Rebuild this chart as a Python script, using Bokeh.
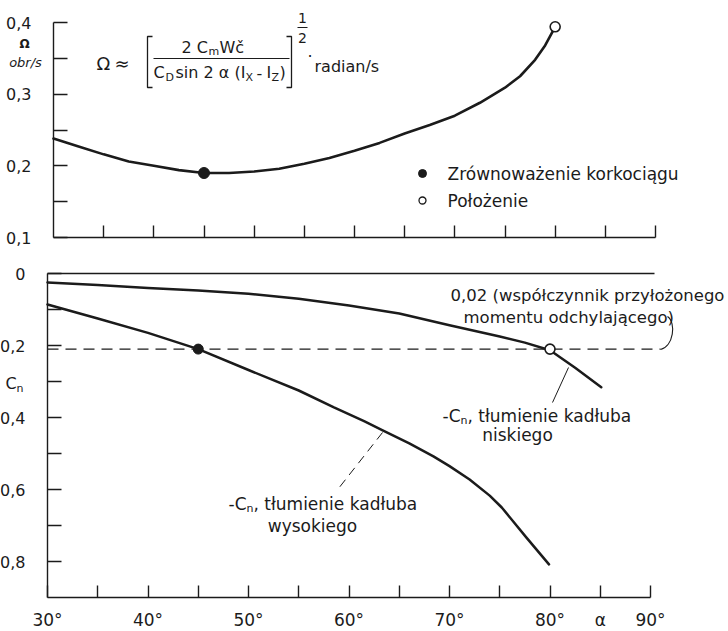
from bokeh.plotting import figure
from bokeh.models import LinearAxis, Range1d, FixedTicker
from bokeh.core.properties import value
from bokeh.embed import file_html
from bokeh.resources import INLINE

# ---------------- data ----------------
# upper panel: spin rate Omega [obr/s] against angle of attack alpha [deg]
alpha_omega = [30, 32.5, 35, 37.5, 40, 42.5, 45, 47.5, 50, 52.5, 55, 57.5, 60, 62.5,
               65, 67.5, 70, 72.5, 75, 76.5, 78, 79, 80]
omega = [0.238, 0.227, 0.216, 0.206, 0.200, 0.194, 0.190, 0.190, 0.192, 0.196,
         0.203, 0.211, 0.221, 0.232, 0.245, 0.257, 0.270, 0.288, 0.309, 0.325,
         0.348, 0.368, 0.394]
spin_alpha = [45]          # Zrównoważenie korkociągu
spin_omega = [0.190]
pos_alpha = [80]           # Położenie
pos_omega = [0.394]

# lower panel: -Cn damping, low fuselage / high fuselage
alpha_low = [30, 35, 40, 45, 50, 55, 60, 65, 70, 75, 77.5, 80, 82.5, 85.1]
cn_low = [0.025, 0.032, 0.040, 0.047, 0.056, 0.070, 0.089, 0.111, 0.144, 0.175,
          0.192, 0.213, 0.262, 0.316]
alpha_high = [30, 35, 40, 45, 50, 55, 58.5, 61.5, 63.3, 66, 68.4, 70, 72, 74, 75.2,
              77.7, 79.9]
cn_high = [0.086, 0.125, 0.165, 0.210, 0.268, 0.325, 0.372, 0.410, 0.435, 0.472,
           0.508, 0.535, 0.572, 0.617, 0.650, 0.735, 0.808]
applied_cn = 0.21                      # applied yawing-moment level
applied_alpha = [30, 91.0]
eq_high_alpha, eq_low_alpha = [45], [80]

# ticks and labels
omega_ticks = [0.1, 0.15, 0.2, 0.25, 0.3, 0.35, 0.4]
omega_labels = {0.1: "0,1", 0.15: "", 0.2: "0,2", 0.25: "", 0.3: "0,3", 0.35: "",
                0.4: "0,4"}
cn_ticks = [0.0, 0.1, 0.2, 0.3, 0.4, 0.5, 0.6, 0.7, 0.8]
cn_labels = {0.0: "0", 0.1: "", 0.2: "0,2", 0.3: "", 0.4: "0,4", 0.5: "",
             0.6: "0,6", 0.7: "", 0.8: "0,8"}
alpha_ticks = [35, 40, 45, 50, 55, 60, 65, 70, 75, 80, 85, 90]
alpha_ticks_bottom = [30, 35, 40, 45, 50, 55, 60, 65, 70, 75, 80, 85, 90]
alpha_labels = {30: "30°", 35: "", 40: "40°", 45: "", 50: "50°", 55: "", 60: "60°",
                65: "", 70: "70°", 75: "", 80: "80°", 85: "α", 90: "90°"}

# ---------------- layout (pixel geometry of the scan) ----------------
W, H = 728, 631
INK = "#1b1b1b"
FONT = "DejaVu Sans"

BX0, BX1, BY0, BY1 = 47, 650, 273, 597   # lower panel: alpha 30/90, Cn 0/0.9
TX0, TX1, TY0, TY1 = 53, 655, 237, 22    # upper panel: alpha 30/90, Omega 0.1/0.4


def bx(px):
    return 30 + (px - BX0) * 60.0 / (BX1 - BX0)


def by(py):
    return (py - BY0) * 0.9 / (BY1 - BY0)


def tx(px):
    return 30 + (px - TX0) * 60.0 / (TX1 - TX0)


def ty(py):
    return 0.1 + (TY0 - py) * 0.3 / (TY0 - TY1)


p = figure(width=W, height=H,
           x_range=Range1d(bx(0), bx(W)), y_range=Range1d(by(H), by(0)),
           x_axis_type=None, y_axis_type=None, toolbar_location=None,
           output_backend="svg", min_border=0, min_border_left=0,
           min_border_right=0, min_border_top=0, min_border_bottom=0,
           outline_line_color=None, background_fill_color="white",
           border_fill_color="white")
p.extra_x_ranges = {"xt": Range1d(tx(0), tx(W))}
p.extra_y_ranges = {"om": Range1d(ty(H), ty(0))}
TOP = dict(x_range_name="xt", y_range_name="om")


def make_axis(ticks, labels, loc, bounds, xr="default", yr="default",
              tick_in=14, size="16px", standoff=22):
    return LinearAxis(
        ticker=FixedTicker(ticks=ticks), major_label_overrides=labels,
        fixed_location=loc, bounds=bounds, x_range_name=xr, y_range_name=yr,
        axis_line_color=INK, axis_line_width=1.4,
        major_tick_line_color=INK, major_tick_line_width=1.4,
        major_tick_in=tick_in, major_tick_out=0, minor_tick_line_color=None,
        major_label_text_font=FONT, major_label_text_font_size=size,
        major_label_text_color=INK, major_label_standoff=standoff)


# upper panel axes
p.add_layout(make_axis(omega_ticks, omega_labels, 30, (0.1, 0.4), xr="xt", yr="om"),
             "left")
p.add_layout(make_axis(alpha_ticks, {t: "" for t in alpha_ticks}, 0.1, (30, 90),
                       xr="xt", yr="om", tick_in=12, size="0px"), "below")
# lower panel axes
p.add_layout(make_axis(cn_ticks, cn_labels, 30, (0.0, 0.9)), "left")
p.add_layout(make_axis(alpha_ticks_bottom, alpha_labels, 0.9, (30, 90), tick_in=12,
                       size="17px", standoff=12), "below")
p.add_layout(make_axis([], {}, 0.0, (30, 90.4), tick_in=0, size="0px"), "above")


def txt(xs, ys, texts, size="16px", align="left", top=False, style="normal",
        baseline="middle"):
    kw = TOP if top else {}
    p.text(x=xs, y=ys, text=texts, text_font=value(FONT), text_font_size=size,
           text_align=align, text_baseline=baseline, text_color=INK,
           text_font_style=style, **kw)


def seg(xs, ys, top=False, width=1.3, dash="solid"):
    kw = TOP if top else {}
    p.line(xs, ys, line_color=INK, line_width=width, line_dash=dash, **kw)


# ---------------- upper panel ----------------
p.line(alpha_omega, omega, line_color=INK, line_width=2.6, line_join="round",
       line_cap="round", **TOP)
p.scatter(spin_alpha, spin_omega, size=11, color=INK, **TOP)
p.scatter(pos_alpha, pos_omega, size=10, fill_color="white", line_color=INK,
          line_width=1.6, **TOP)

# axis title
txt([tx(24)], [ty(43)], ["Ω"], size="12px", align="center", top=True, style="bold")
txt([tx(25)], [ty(62)], ["obr/s"], size="13px", align="center", top=True,
    style="italic")

# formula
txt([tx(96)], [ty(63)], ["Ω"], size="18px", top=True)
txt([tx(114)], [ty(63)], ["≈"], size="18px", top=True)
seg([tx(152), tx(147), tx(147), tx(152)], [ty(36), ty(36), ty(87), ty(87)], top=True)
seg([tx(286), tx(291), tx(291), tx(286)], [ty(36), ty(36), ty(87), ty(87)], top=True)
txt([tx(181)], [ty(47)], ["2 C"], top=True)
txt([tx(208)], [ty(51)], ["m"], size="11px", top=True)
txt([tx(219)], [ty(47)], ["Wč"], top=True)
seg([tx(153), tx(289)], [ty(58), ty(58)], top=True, width=1.1)
txt([tx(153)], [ty(72)], ["C"], top=True)
txt([tx(165)], [ty(77)], ["D"], size="11px", top=True)
txt([tx(175)], [ty(72)], ["sin 2 α (I"], top=True)
txt([tx(245)], [ty(77)], ["X"], size="11px", top=True)
txt([tx(256)], [ty(72)], ["-"], top=True)
txt([tx(266)], [ty(72)], ["I"], top=True)
txt([tx(271)], [ty(77)], ["Z"], size="11px", top=True)
txt([tx(279)], [ty(72)], [")"], top=True)
txt([tx(302)], [ty(17)], ["1"], size="14px", align="center", top=True)
seg([tx(297), tx(307)], [ty(27), ty(27)], top=True, width=1.1)
txt([tx(302)], [ty(37)], ["2"], size="14px", align="center", top=True)
txt([tx(307)], [ty(50)], ["."], top=True, baseline="alphabetic")
txt([tx(314)], [ty(66)], ["radian/s"], top=True)

# legend
p.scatter([tx(422)], [ty(173)], size=8, color=INK, **TOP)
p.scatter([tx(422)], [ty(200)], size=7, fill_color="white", line_color=INK,
          line_width=1.3, **TOP)
txt([tx(447)], [ty(173)], ["Zrównoważenie korkociągu"], size="17px", top=True)
txt([tx(447)], [ty(200)], ["Położenie"], size="17px", top=True)

# ---------------- lower panel ----------------
p.line(applied_alpha, [applied_cn, applied_cn], line_color=INK, line_width=1.3,
       line_dash="11 7")
p.line(alpha_low, cn_low, line_color=INK, line_width=2.5, line_join="round",
       line_cap="round")
p.line(alpha_high, cn_high, line_color=INK, line_width=2.5, line_join="round",
       line_cap="round")
p.scatter(eq_high_alpha, [applied_cn], size=10, color=INK)
p.scatter(eq_low_alpha, [applied_cn], size=10, fill_color="white", line_color=INK,
          line_width=1.6)

# Cn axis title
txt([bx(5)], [by(383)], ["C"])
txt([bx(16)], [by(388)], ["n"], size="11px")

# brace from the dashed line up to the note
p.bezier(x0=[bx(660)], y0=[by(349)], x1=[bx(667)], y1=[by(316)],
         cx0=[bx(673)], cy0=[by(346)], cx1=[bx(676)], cy1=[by(322)],
         line_color=INK, line_width=1.1)
txt([bx(450)], [by(295)], ["0,02 (współczynnik przyłożonego"], size="16.5px")
txt([bx(463)], [by(317)], ["momentu odchylającego)"], size="16.5px")

# low-fuselage label
seg([bx(568), bx(552)], [by(367), by(402)], width=1.0)
txt([bx(442)], [by(415)], ["-C"], size="17px")
txt([bx(460)], [by(420)], ["n"], size="11px")
txt([bx(467)], [by(415)], [", tłumienie kadłuba"], size="17px")
txt([bx(517)], [by(434)], ["niskiego"], size="17px", align="center")

# high-fuselage label
seg([bx(382), bx(338)], [by(432), by(488)], width=1.0, dash="9 6")
txt([bx(228)], [by(503)], ["-C"], size="17px")
txt([bx(246)], [by(508)], ["n"], size="11px")
txt([bx(253)], [by(503)], [", tłumienie kadłuba"], size="17px")
txt([bx(312)], [by(525)], ["wysokiego"], size="17px", align="center")

open("out.html", "w").write(file_html(p, INLINE))
